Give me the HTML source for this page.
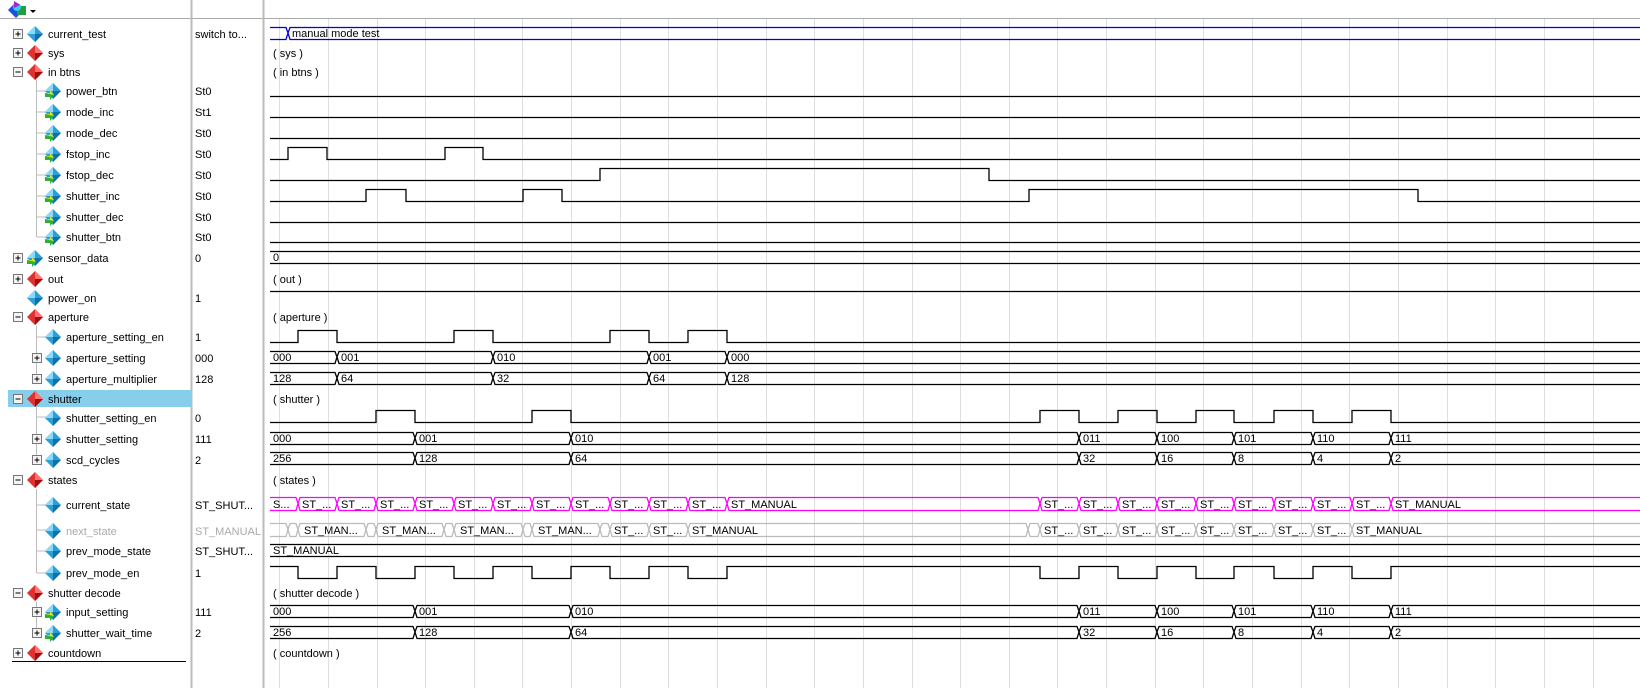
<!DOCTYPE html>
<html><head><meta charset="utf-8"><style>
html,body{margin:0;padding:0;background:#fff;}
svg{display:block;}
text{font-family:"Liberation Sans",sans-serif;font-size:11px;fill:#000;}
.g{fill:#aaa;}
</style></head><body>
<svg width="1640" height="688" viewBox="0 0 1640 688" xmlns="http://www.w3.org/2000/svg">
<defs>
<g id="rd"><polygon points="0,-8 8,0 0,8 -8,0" fill="#e03030"/><polygon points="0,-8 8,0 0,0" fill="#ff7070"/><polygon points="0,8 8,0 0,0" fill="#a01010"/></g>
<g id="bd"><polygon points="0,-8 8,0 0,8 -8,0" fill="#2a9fd8"/><polygon points="0,-8 -8,0 0,0" fill="#8fd8f8"/><polygon points="0,8 8,0 0,0" fill="#1070a8"/></g>
<g id="ad"><use href="#bd"/><polygon points="-8,2 -3,2 -3,-1 1,4 -3,9 -3,6 -8,6" fill="#30b030"/><polygon points="-8,2 -3,2 -3,-1 1,4" fill="#d8e820"/></g>
<g id="pl"><rect x="-4.5" y="-4.5" width="9" height="9" fill="#f4f4f4" stroke="#777"/><path d="M-2.5 0H2.5M0 -2.5V2.5" stroke="#000"/></g>
<g id="mi"><rect x="-4.5" y="-4.5" width="9" height="9" fill="#f4f4f4" stroke="#777"/><path d="M-2.5 0H2.5" stroke="#000"/></g>
</defs>
<rect x="0" y="0" width="1640" height="18" fill="#fff"/>
<polygon points="16,2 24,10 16,18 8,10" fill="#2050e0"/><rect x="17" y="6" width="9" height="9" fill="#20a040"/><circle cx="17" cy="7" r="4" fill="#30d0f0"/><polygon points="14,1 20,5 14,8" fill="#b020d0"/>
<polygon points="30,10 36,10 33,13" fill="#000"/>
<line x1="0" y1="18.5" x2="1640" y2="18.5" stroke="#aaa"/>
<g stroke="#dedede" stroke-width="1">
<path d="M279.5 19V688M328.5 19V688M377.5 19V688M425.5 19V688M474.5 19V688M522.5 19V688M571.5 19V688M620.5 19V688M668.5 19V688M717.5 19V688M766.5 19V688M814.5 19V688M863.5 19V688M912.5 19V688M960.5 19V688M1009.5 19V688M1057.5 19V688M1106.5 19V688M1155.5 19V688M1203.5 19V688M1252.5 19V688M1301.5 19V688M1349.5 19V688M1398.5 19V688M1447.5 19V688M1495.5 19V688M1544.5 19V688M1593.5 19V688"/>
</g>
<line x1="191.5" y1="0" x2="191.5" y2="688" stroke="#bbb" stroke-width="2"/>
<line x1="263.5" y1="0" x2="263.5" y2="688" stroke="#bbb" stroke-width="2"/>
<rect x="8" y="390" width="183" height="17" fill="#87ceeb"/>
<g stroke="#bbb"><path d="M36.5 80V237M36.5 326V379M36.5 407V459M36.5 489V573M36.5 602V633"/>
<path d="M37 91H46M37 112H46M37 133H46M37 154H46M37 175H46M37 196H46M37 217H46M37 237H46M37 337H46M37 417H46M37 505H46M37 530H46M37 551H46M37 573H46"/></g>
<use href="#pl" x="18" y="34"/><use href="#bd" x="35" y="34"/>
<use href="#pl" x="18" y="53"/><use href="#rd" x="35" y="53"/>
<use href="#mi" x="18" y="72"/><use href="#rd" x="35" y="72"/>
<use href="#ad" x="53" y="91"/><use href="#ad" x="53" y="112"/><use href="#ad" x="53" y="133"/><use href="#ad" x="53" y="154"/><use href="#ad" x="53" y="175"/><use href="#ad" x="53" y="196"/><use href="#ad" x="53" y="217"/><use href="#ad" x="53" y="237"/>
<use href="#pl" x="18" y="258"/><use href="#ad" x="35" y="258"/>
<use href="#pl" x="18" y="279"/><use href="#rd" x="35" y="279"/>
<use href="#bd" x="35" y="298"/>
<use href="#mi" x="18" y="317"/><use href="#rd" x="35" y="317"/>
<use href="#bd" x="53" y="337"/>
<use href="#pl" x="37" y="358"/><use href="#bd" x="53" y="358"/>
<use href="#pl" x="37" y="379"/><use href="#bd" x="53" y="379"/>
<use href="#mi" x="18" y="399"/><use href="#rd" x="35" y="399"/>
<use href="#bd" x="53" y="418"/>
<use href="#pl" x="37" y="439"/><use href="#bd" x="53" y="439"/>
<use href="#pl" x="37" y="460"/><use href="#bd" x="53" y="460"/>
<use href="#mi" x="18" y="480"/><use href="#rd" x="35" y="480"/>
<use href="#bd" x="53" y="505"/><use href="#bd" x="53" y="531"/><use href="#bd" x="53" y="551"/><use href="#bd" x="53" y="573"/>
<use href="#mi" x="18" y="593"/><use href="#rd" x="35" y="593"/>
<use href="#pl" x="37" y="612"/><use href="#ad" x="53" y="612"/>
<use href="#pl" x="37" y="633"/><use href="#ad" x="53" y="633"/>
<use href="#pl" x="18" y="653"/><use href="#rd" x="35" y="653"/>
<line x1="12" y1="661.5" x2="186" y2="661.5" stroke="#000"/>
<text x="48" y="38">current_test</text><text x="48" y="57">sys</text><text x="48" y="76">in btns</text>
<text x="66" y="95">power_btn</text><text x="66" y="116">mode_inc</text><text x="66" y="137">mode_dec</text><text x="66" y="158">fstop_inc</text><text x="66" y="179">fstop_dec</text><text x="66" y="200">shutter_inc</text><text x="66" y="221">shutter_dec</text><text x="66" y="241">shutter_btn</text>
<text x="48" y="262">sensor_data</text><text x="48" y="283">out</text><text x="48" y="302">power_on</text><text x="48" y="321">aperture</text>
<text x="66" y="341">aperture_setting_en</text><text x="66" y="362">aperture_setting</text><text x="66" y="383">aperture_multiplier</text>
<text x="48" y="403">shutter</text>
<text x="66" y="422">shutter_setting_en</text><text x="66" y="443">shutter_setting</text><text x="66" y="464">scd_cycles</text>
<text x="48" y="484">states</text>
<text x="66" y="509">current_state</text><text x="66" y="535" class="g">next_state</text><text x="66" y="555">prev_mode_state</text><text x="66" y="577">prev_mode_en</text>
<text x="48" y="597">shutter decode</text>
<text x="66" y="616">input_setting</text><text x="66" y="637">shutter_wait_time</text>
<text x="48" y="657">countdown</text>
<text x="195" y="38">switch to...</text>
<text x="195" y="95">St0</text><text x="195" y="116">St1</text><text x="195" y="137">St0</text><text x="195" y="158">St0</text><text x="195" y="179">St0</text><text x="195" y="200">St0</text><text x="195" y="221">St0</text><text x="195" y="241">St0</text>
<text x="195" y="262">0</text><text x="195" y="302">1</text><text x="195" y="341">1</text><text x="195" y="362">000</text><text x="195" y="383">128</text>
<text x="195" y="422">0</text><text x="195" y="443">111</text><text x="195" y="464">2</text>
<text x="195" y="509">ST_SHUT...</text><text x="195" y="535" class="g">ST_MANUAL</text><text x="195" y="555">ST_SHUT...</text><text x="195" y="577">1</text>
<text x="195" y="616">111</text><text x="195" y="637">2</text>
<text x="273" y="57">( sys )</text><text x="273" y="76">( in btns )</text><text x="273" y="283">( out )</text><text x="273" y="321">( aperture )</text><text x="273" y="403">( shutter )</text><text x="273" y="484">( states )</text><text x="273" y="597">( shutter decode )</text><text x="273" y="657">( countdown )</text>
<g fill="none" stroke="#000" stroke-width="1.3">
<path d="M270 96.5H1640"/>
<path d="M270 117.5H1640"/>
<path d="M270 138.5H1640"/>
<path d="M270 159.5H288V147.5H327V159.5H445V147.5H483V159.5H1640"/>
<path d="M270 180.5H600V168.5H989V180.5H1640"/>
<path d="M270 201.5H366V189.5H406V201.5H523V189.5H562V201.5H1029V189.5H1418V201.5H1640"/>
<path d="M270 222.5H1640"/>
<path d="M270 242.5H1640"/>
<path d="M270 291.5H1640"/>
<path d="M270 342.5H298V330.5H337V342.5H454V330.5H493V342.5H610V330.5H649V342.5H688V330.5H727V342.5H1640"/>
<path d="M270 422.5H376V410.5H415V422.5H532V410.5H571V422.5H1040V410.5H1079V422.5H1118V410.5H1157V422.5H1196V410.5H1234V422.5H1274V410.5H1313V422.5H1352V410.5H1391V422.5H1640"/>
<path d="M270 566.5H298V578.5H337V566.5H376V578.5H415V566.5H454V578.5H493V566.5H532V578.5H571V566.5H610V578.5H649V566.5H688V578.5H727V566.5H1040V578.5H1079V566.5H1118V578.5H1157V566.5H1196V578.5H1234V566.5H1274V578.5H1313V566.5H1352V578.5H1391V566.5H1640"/>
</g>
<g fill="none" stroke-width="1.3">
<path stroke="#0000e0" d="M270 27.5H286L288 33L286 39.5H270M1640 27.5H290L288 33L290 39.5H1640"/>
<path stroke="#000" d="M270 251.5H1640M270 263.5H1640"/>
<path stroke="#000" d="M270 544.5H1640M270 556.5H1640"/>
</g>
<text x="292" y="37">manual mode test</text>
<text x="273" y="261">0</text>
<text x="273" y="554">ST_MANUAL</text>
<g fill="none" stroke="#000" stroke-width="1.3">
<path d="M270 351.5H335L337 357L339 351.5H491L493 357L495 351.5H647L649 357L651 351.5H725L727 357L729 351.5H1640M270 363.5H335L337 357L339 363.5H491L493 357L495 363.5H647L649 357L651 363.5H725L727 357L729 363.5H1640"/>
<path d="M270 372.5H335L337 378L339 372.5H491L493 378L495 372.5H647L649 378L651 372.5H725L727 378L729 372.5H1640M270 384.5H335L337 378L339 384.5H491L493 378L495 384.5H647L649 378L651 384.5H725L727 378L729 384.5H1640"/>
</g>
<text x="273" y="361">000</text><text x="341" y="361">001</text><text x="497" y="361">010</text><text x="653" y="361">001</text><text x="731" y="361">000</text>
<text x="273" y="382">128</text><text x="341" y="382">64</text><text x="497" y="382">32</text><text x="653" y="382">64</text><text x="731" y="382">128</text>
<g fill="none" stroke="#000" stroke-width="1.3">
<path d="M270 432.5H413L415 438L417 432.5H569L571 438L573 432.5H1077L1079 438L1081 432.5H1155L1157 438L1159 432.5H1232L1234 438L1236 432.5H1311L1313 438L1315 432.5H1389L1391 438L1393 432.5H1640M270 444.5H413L415 438L417 444.5H569L571 438L573 444.5H1077L1079 438L1081 444.5H1155L1157 438L1159 444.5H1232L1234 438L1236 444.5H1311L1313 438L1315 444.5H1389L1391 438L1393 444.5H1640"/>
<path d="M270 452.5H413L415 458L417 452.5H569L571 458L573 452.5H1077L1079 458L1081 452.5H1155L1157 458L1159 452.5H1232L1234 458L1236 452.5H1311L1313 458L1315 452.5H1389L1391 458L1393 452.5H1640M270 464.5H413L415 458L417 464.5H569L571 458L573 464.5H1077L1079 458L1081 464.5H1155L1157 458L1159 464.5H1232L1234 458L1236 464.5H1311L1313 458L1315 464.5H1389L1391 458L1393 464.5H1640"/>
<path d="M270 605.5H413L415 611L417 605.5H569L571 611L573 605.5H1077L1079 611L1081 605.5H1155L1157 611L1159 605.5H1232L1234 611L1236 605.5H1311L1313 611L1315 605.5H1389L1391 611L1393 605.5H1640M270 617.5H413L415 611L417 617.5H569L571 611L573 617.5H1077L1079 611L1081 617.5H1155L1157 611L1159 617.5H1232L1234 611L1236 617.5H1311L1313 611L1315 617.5H1389L1391 611L1393 617.5H1640"/>
<path d="M270 626.5H413L415 632L417 626.5H569L571 632L573 626.5H1077L1079 632L1081 626.5H1155L1157 632L1159 626.5H1232L1234 632L1236 626.5H1311L1313 632L1315 626.5H1389L1391 632L1393 626.5H1640M270 638.5H413L415 632L417 638.5H569L571 632L573 638.5H1077L1079 632L1081 638.5H1155L1157 632L1159 638.5H1232L1234 632L1236 638.5H1311L1313 632L1315 638.5H1389L1391 632L1393 638.5H1640"/>
</g>
<g>
<text x="273" y="442">000</text><text x="419" y="442">001</text><text x="575" y="442">010</text><text x="1083" y="442">011</text><text x="1161" y="442">100</text><text x="1238" y="442">101</text><text x="1317" y="442">110</text><text x="1395" y="442">111</text>
<text x="273" y="462">256</text><text x="419" y="462">128</text><text x="575" y="462">64</text><text x="1083" y="462">32</text><text x="1161" y="462">16</text><text x="1238" y="462">8</text><text x="1317" y="462">4</text><text x="1395" y="462">2</text>
<text x="273" y="615">000</text><text x="419" y="615">001</text><text x="575" y="615">010</text><text x="1083" y="615">011</text><text x="1161" y="615">100</text><text x="1238" y="615">101</text><text x="1317" y="615">110</text><text x="1395" y="615">111</text>
<text x="273" y="636">256</text><text x="419" y="636">128</text><text x="575" y="636">64</text><text x="1083" y="636">32</text><text x="1161" y="636">16</text><text x="1238" y="636">8</text><text x="1317" y="636">4</text><text x="1395" y="636">2</text>
</g>
<g fill="none" stroke="#ff00ff" stroke-width="1.3">
<path d="M270 497.5H296L298 503.5L300 497.5H335L337 503.5L339 497.5H374L376 503.5L378 497.5H413L415 503.5L417 497.5H452L454 503.5L456 497.5H491L493 503.5L495 497.5H530L532 503.5L534 497.5H569L571 503.5L573 497.5H608L610 503.5L612 497.5H647L649 503.5L651 497.5H686L688 503.5L690 497.5H725L727 503.5L729 497.5H1038L1040 503.5L1042 497.5H1077L1079 503.5L1081 497.5H1116L1118 503.5L1120 497.5H1155L1157 503.5L1159 497.5H1194L1196 503.5L1198 497.5H1232L1234 503.5L1236 497.5H1272L1274 503.5L1276 497.5H1311L1313 503.5L1315 497.5H1350L1352 503.5L1354 497.5H1389L1391 503.5L1393 497.5H1640"/>
<path d="M270 510.5H296L298 503.5L300 510.5H335L337 503.5L339 510.5H374L376 503.5L378 510.5H413L415 503.5L417 510.5H452L454 503.5L456 510.5H491L493 503.5L495 510.5H530L532 503.5L534 510.5H569L571 503.5L573 510.5H608L610 503.5L612 510.5H647L649 503.5L651 510.5H686L688 503.5L690 510.5H725L727 503.5L729 510.5H1038L1040 503.5L1042 510.5H1077L1079 503.5L1081 510.5H1116L1118 503.5L1120 510.5H1155L1157 503.5L1159 510.5H1194L1196 503.5L1198 510.5H1232L1234 503.5L1236 510.5H1272L1274 503.5L1276 510.5H1311L1313 503.5L1315 510.5H1350L1352 503.5L1354 510.5H1389L1391 503.5L1393 510.5H1640"/>
</g>
<g>
<text x="273" y="508">S...</text><text x="302" y="508">ST_...</text><text x="341" y="508">ST_...</text><text x="380" y="508">ST_...</text><text x="419" y="508">ST_...</text><text x="458" y="508">ST_...</text><text x="497" y="508">ST_...</text><text x="536" y="508">ST_...</text><text x="575" y="508">ST_...</text><text x="614" y="508">ST_...</text><text x="653" y="508">ST_...</text><text x="692" y="508">ST_...</text><text x="731" y="508">ST_MANUAL</text>
<text x="1044" y="508">ST_...</text><text x="1083" y="508">ST_...</text><text x="1122" y="508">ST_...</text><text x="1161" y="508">ST_...</text><text x="1200" y="508">ST_...</text><text x="1238" y="508">ST_...</text><text x="1278" y="508">ST_...</text><text x="1317" y="508">ST_...</text><text x="1356" y="508">ST_...</text><text x="1395" y="508">ST_MANUAL</text>
</g>
<g fill="none" stroke="#bbb" stroke-width="1.3">
<path d="M270 523.5H286L288 529.5L290 523.5H296L298 529.5L300 523.5H364L366 529.5L368 523.5H374L376 529.5L378 523.5H442L444 529.5L446 523.5H452L454 529.5L456 523.5H521L523 529.5L525 523.5H530L532 529.5L534 523.5H598L600 529.5L602 523.5H608L610 529.5L612 523.5H647L649 529.5L651 523.5H686L688 529.5L690 523.5H1026L1028 529.5L1030 523.5H1038L1040 529.5L1042 523.5H1077L1079 529.5L1081 523.5H1116L1118 529.5L1120 523.5H1155L1157 529.5L1159 523.5H1194L1196 529.5L1198 523.5H1232L1234 529.5L1236 523.5H1272L1274 529.5L1276 523.5H1311L1313 529.5L1315 523.5H1350L1352 529.5L1354 523.5H1640"/>
<path d="M270 536.5H286L288 529.5L290 536.5H296L298 529.5L300 536.5H364L366 529.5L368 536.5H374L376 529.5L378 536.5H442L444 529.5L446 536.5H452L454 529.5L456 536.5H521L523 529.5L525 536.5H530L532 529.5L534 536.5H598L600 529.5L602 536.5H608L610 529.5L612 536.5H647L649 529.5L651 536.5H686L688 529.5L690 536.5H1026L1028 529.5L1030 536.5H1038L1040 529.5L1042 536.5H1077L1079 529.5L1081 536.5H1116L1118 529.5L1120 536.5H1155L1157 529.5L1159 536.5H1194L1196 529.5L1198 536.5H1232L1234 529.5L1236 536.5H1272L1274 529.5L1276 536.5H1311L1313 529.5L1315 536.5H1350L1352 529.5L1354 536.5H1640"/>
</g>
<g>
<text x="304" y="534">ST_MAN...</text><text x="382" y="534">ST_MAN...</text><text x="460" y="534">ST_MAN...</text><text x="538" y="534">ST_MAN...</text><text x="614" y="534">ST_...</text><text x="653" y="534">ST_...</text><text x="692" y="534">ST_MANUAL</text>
<text x="1044" y="534">ST_...</text><text x="1083" y="534">ST_...</text><text x="1122" y="534">ST_...</text><text x="1161" y="534">ST_...</text><text x="1200" y="534">ST_...</text><text x="1238" y="534">ST_...</text><text x="1278" y="534">ST_...</text><text x="1317" y="534">ST_...</text><text x="1356" y="534">ST_MANUAL</text>
</g>
</svg>
</body></html>
